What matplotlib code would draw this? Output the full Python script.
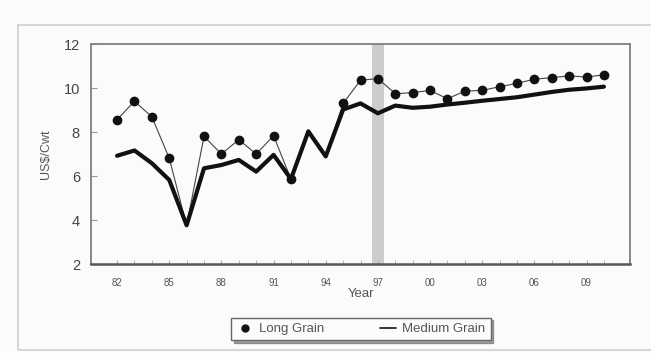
import matplotlib
matplotlib.use("Agg")
import matplotlib.pyplot as plt
from matplotlib.patches import Rectangle

plt.rcParams['font.family'] = ['Liberation Sans', 'DejaVu Sans']

years = list(range(1982, 2011))
long_grain = [8.56, 9.40, 8.69, 6.81, 3.75, 7.80, 7.00, 7.65, 7.00, 7.83,
              5.86, 8.03, 6.89, 9.30, 10.35, 10.43, 9.74, 9.79, 9.89, 9.51,
              9.86, 9.89, 10.06, 10.21, 10.40, 10.47, 10.55, 10.50, 10.60]
medium_grain = [6.92, 7.16, 6.58, 5.82, 3.76, 6.35, 6.50, 6.73, 6.20, 6.96,
                5.86, 8.03, 6.89, 9.02, 9.30, 8.85, 9.20, 9.10, 9.15, 9.25,
                9.33, 9.42, 9.50, 9.58, 9.70, 9.82, 9.92, 9.98, 10.06]
tick_years = [1982, 1985, 1988, 1991, 1994, 1997, 2000, 2003, 2006, 2009]
tick_labels = ['82', '85', '88', '91', '94', '97', '00', '03', '06', '09']
marker_year = 1997

# years where both series coincide: long-grain dot hidden by the medium line
hidden_dots = {1986, 1993, 1994}
dot_idx = [i for i, y in enumerate(years) if y not in hidden_dots]

W, H = 651, 353
fig = plt.figure(figsize=(W / 100, H / 100), dpi=100, facecolor='#fbfbfb')

# outer frame
fig.add_artist(Rectangle((18 / W, 1 - 350 / H), (660 - 18) / W, (350 - 25) / H,
                         transform=fig.transFigure, fill=False,
                         edgecolor='#cfcfcf', linewidth=1.2))

ax = fig.add_axes([91 / W, 1 - 264 / H, (630 - 91) / W, (264 - 44) / H])
ax.set_facecolor('#fbfbfb')
ax.set_xlim(1980.5, 2011.5)
ax.set_ylim(2, 12)

ax.axvspan(marker_year - 0.33, marker_year + 0.33, color='#cccccc', lw=0, zorder=1)

ax.plot(years, long_grain, color='#444444', lw=0.8, marker='o', markersize=6,
        markerfacecolor='#111111', markeredgecolor='#111111', zorder=3,
        markevery=dot_idx, label='Long Grain')
ax.plot(years, medium_grain, color='#111111', lw=3.0, zorder=4,
        solid_joinstyle='round', solid_capstyle='round', label='Medium Grain')

for s in ax.spines.values():
    s.set_color('#808080')
    s.set_linewidth(1.3)
ax.spines['bottom'].set_color('#555555')
ax.spines['bottom'].set_linewidth(1.8)

ax.set_yticks([2, 4, 6, 8, 10, 12])
ax.set_xticks(tick_years)
ax.set_xticklabels(tick_labels)
ax.set_xticks(years, minor=True)
ax.tick_params(axis='y', direction='in', length=4, color='#999999',
               labelsize=10.5, labelcolor='#444444', pad=8)
ax.tick_params(axis='x', which='both', direction='in', length=3, color='#aaaaaa',
               labelsize=7, labelcolor='#555555', pad=10)

ax.set_xlabel('Year', fontsize=9.5, color='#555555', labelpad=0)
ax.set_ylabel('US$/Cwt', fontsize=9, color='#555555', labelpad=8)

handles, labels = ax.get_legend_handles_labels()
leg = fig.legend(handles, labels,
                 loc='center', bbox_to_anchor=(361 / W, 1 - 329 / H), ncol=2,
                 fontsize=9.5, frameon=True, fancybox=False, shadow=True,
                 handlelength=1.2, columnspacing=4.2, borderpad=0.4,
                 handletextpad=0.5)
leg.get_frame().set_edgecolor('#666666')
leg.get_frame().set_facecolor('#fbfbfb')
for t in leg.get_texts():
    t.set_color('#555555')
leg.legend_handles[0].set_markersize(5)
leg.legend_handles[0].set_linestyle('none')
leg.legend_handles[1].set_linewidth(1.2)

fig.savefig('out.png', dpi=100, facecolor=fig.get_facecolor())
